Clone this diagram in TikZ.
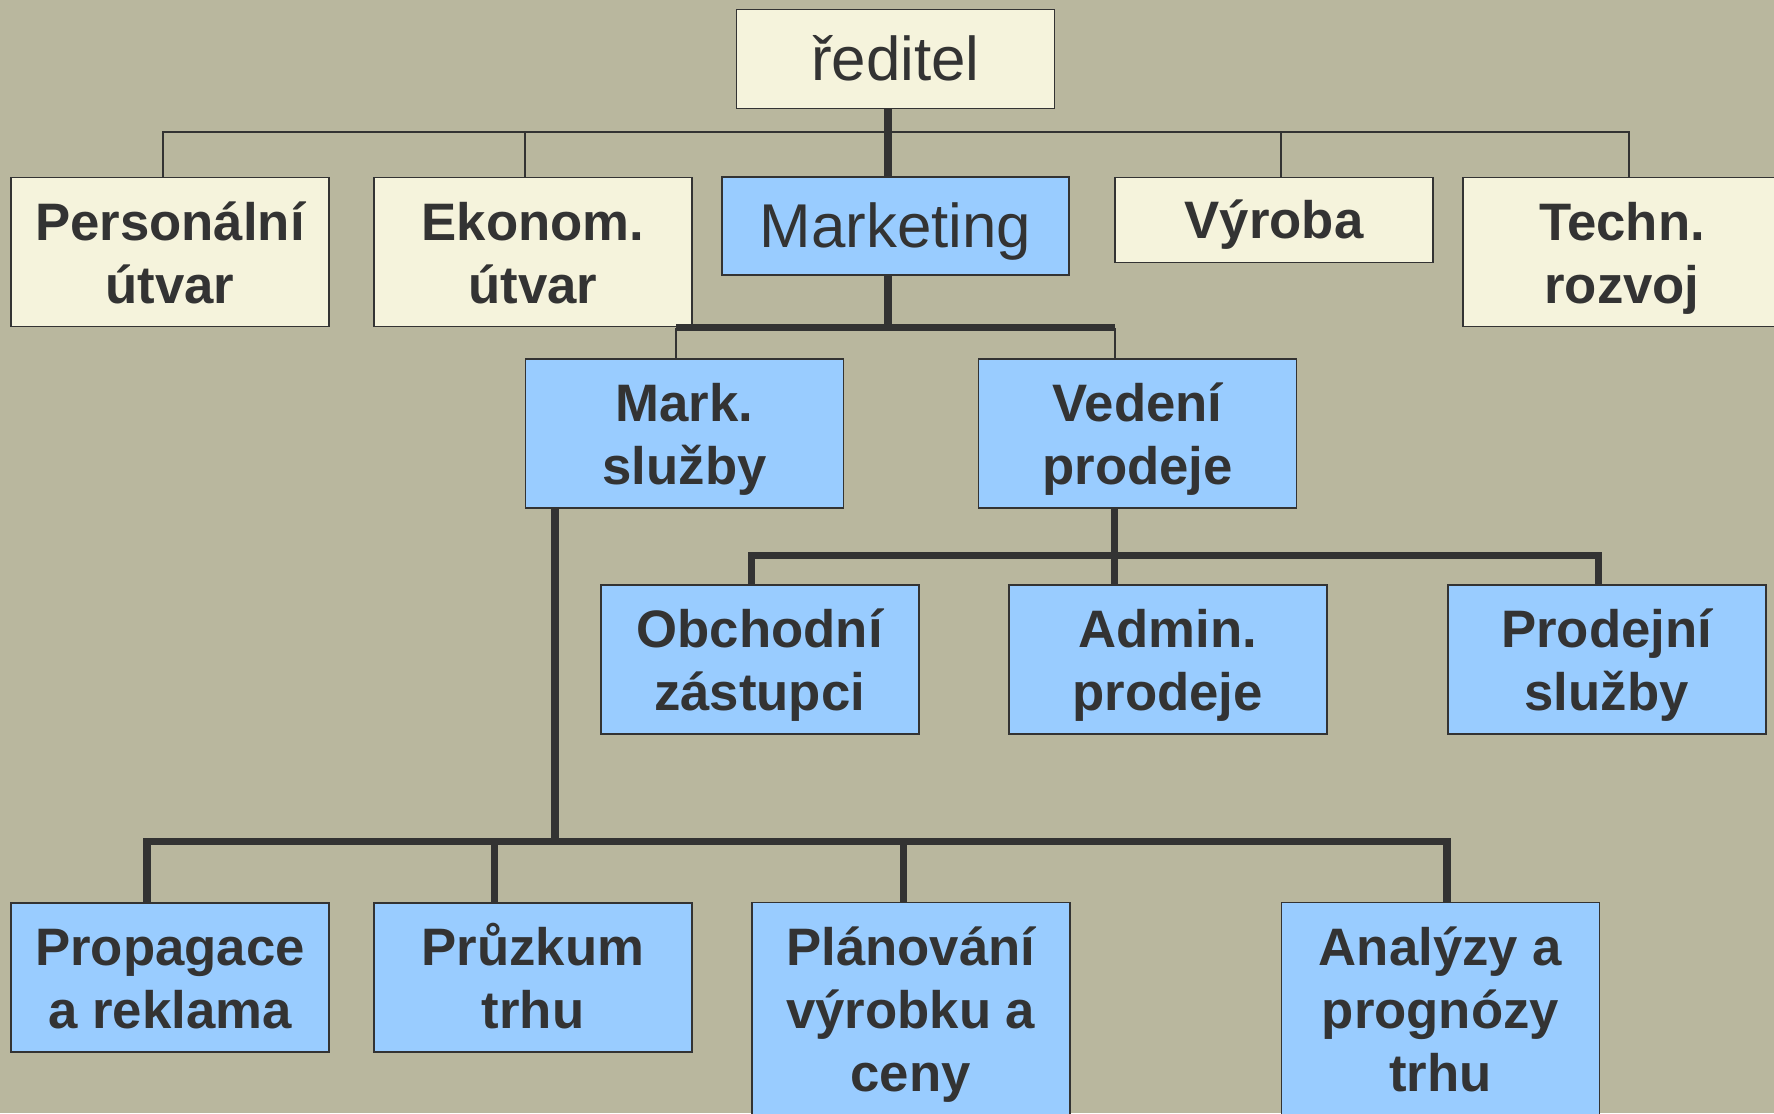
\documentclass[tikz,border=0pt]{standalone}
\usepackage{fontspec}
\setmainfont{Liberation Sans}
\usepackage{tikz}
\usetikzlibrary{positioning, calc}
\definecolor{bgfill}{HTML}{B9B79E}
\definecolor{crfill}{HTML}{F5F3DC}
\definecolor{skfill}{HTML}{99CCFF}
\definecolor{ink}{HTML}{333333}
\newcommand\lnstrut{\rule[-0.212em]{0pt}{1.117em}}
\newcommand\hd{\rule{0pt}{0.96em}}
\tikzset{
  blk/.style={rectangle, draw=ink, line width=0.5pt, text=ink, align=center, inner sep=0pt, font=\fontsize{15}{18}\selectfont\bfseries, minimum width=3.18cm, minimum height=1.49cm,
    execute at end node=\lnstrut},
  cream/.style={blk, fill=crfill},
  sky/.style={blk, fill=skfill},
  hdr/.style={font=\fontsize{17.6}{21}\selectfont},
  link/.style={draw=ink, line width=0.4pt},
  bus/.style={draw=ink, line width=2.1pt},
}

\begin{document}
\begin{tikzpicture}
  \fill[bgfill] (0,0) rectangle (17.74,11.13);
  \useasboundingbox (0,0) rectangle (17.74,11.13);
  % first level
  \node[cream, hdr, minimum height=0.99cm] (red) at (8.955,10.54) {ředitel};
  \node[cream] (per) at (1.70,8.61) {\hd Personální\\útvar};
  \node[cream] (eko) at (5.33,8.61) {\hd Ekonom.\\útvar};
  \node[sky, hdr, minimum width=3.47cm, minimum height=0.975cm] (mkt) at (8.955,8.87) {Marketing};
  \node[cream, minimum height=0.85cm] (vyr) at (12.74,8.93) {Výroba};
  \node[cream] (tech) at (16.22,8.61) {\hd Techn.\\rozvoj};
  % marketing
  \node[sky] (msl) at (6.845,6.796) {\hd Mark.\\služby};
  \node[sky] (vpr) at (11.376,6.796) {\hd Vedení\\prodeje};
  \node[sky] (obz) at (7.597,4.534) {\hd Obchodní\\zástupci};
  \node[sky] (adm) at (11.677,4.534) {\hd Admin.\\prodeje};
  \node[sky] (psl) at (16.067,4.534) {\hd Prodejní\\služby};
  \node[sky] (pro) at (1.70,1.354) {\hd Propagace\\a reklama};
  \node[sky] (pru) at (5.33,1.354) {\hd Průzkum\\trhu};
  \node[sky, minimum height=2.122cm] (pla) at (9.107,1.043) {\hd Plánování\\výrobku a\\ceny};
  \node[sky, minimum height=2.122cm] (ana) at (14.404,1.043) {\hd Analýzy a\\prognózy\\trhu};

  \draw[link] ([xshift=-0.075cm]red.south) -- ++(0,-0.227) coordinate (rj)
    (rj) -| ([xshift=-0.07cm]per.north)
    (rj) -| ([xshift=-0.08cm]eko.north)
    (rj) -| ([xshift=0.07cm]vyr.north)
    (rj) -| ([xshift=0.07cm]tech.north);
  \draw[bus] ([xshift=-0.075cm]red.south) -- ([xshift=-0.075cm]mkt.north);

  \draw[bus] ([xshift=-0.075cm]mkt.south) -- ++(0,-0.538) coordinate (mj);
  \draw[link] ([xshift=-0.085cm]msl.north) -- ++(0,0.303) coordinate (ml);
  \draw[link] ([xshift=-0.226cm]vpr.north) -- ++(0,0.303) coordinate (vl);
  \draw[bus] (ml) -- (vl);

  \draw[bus] ([xshift=-0.23cm]vpr.south) -- ++(0,-0.465) coordinate (pj)
    (pj) -| ([xshift=-0.084cm]obz.north)
    (pj) -| ([xshift=-0.532cm]adm.north)
    (pj) -| ([xshift=-0.08cm]psl.north);

  \draw[bus] ([xshift=-1.295cm]msl.south) -- ++(0,-3.327) coordinate (sj)
    (sj) -| ([xshift=-0.23cm]pro.north)
    (sj) -| ([xshift=-0.386cm]pru.north)
    (sj) -| ([xshift=-0.07cm]pla.north)
    (sj) -| ([xshift=0.066cm]ana.north);
\end{tikzpicture}
\end{document}
